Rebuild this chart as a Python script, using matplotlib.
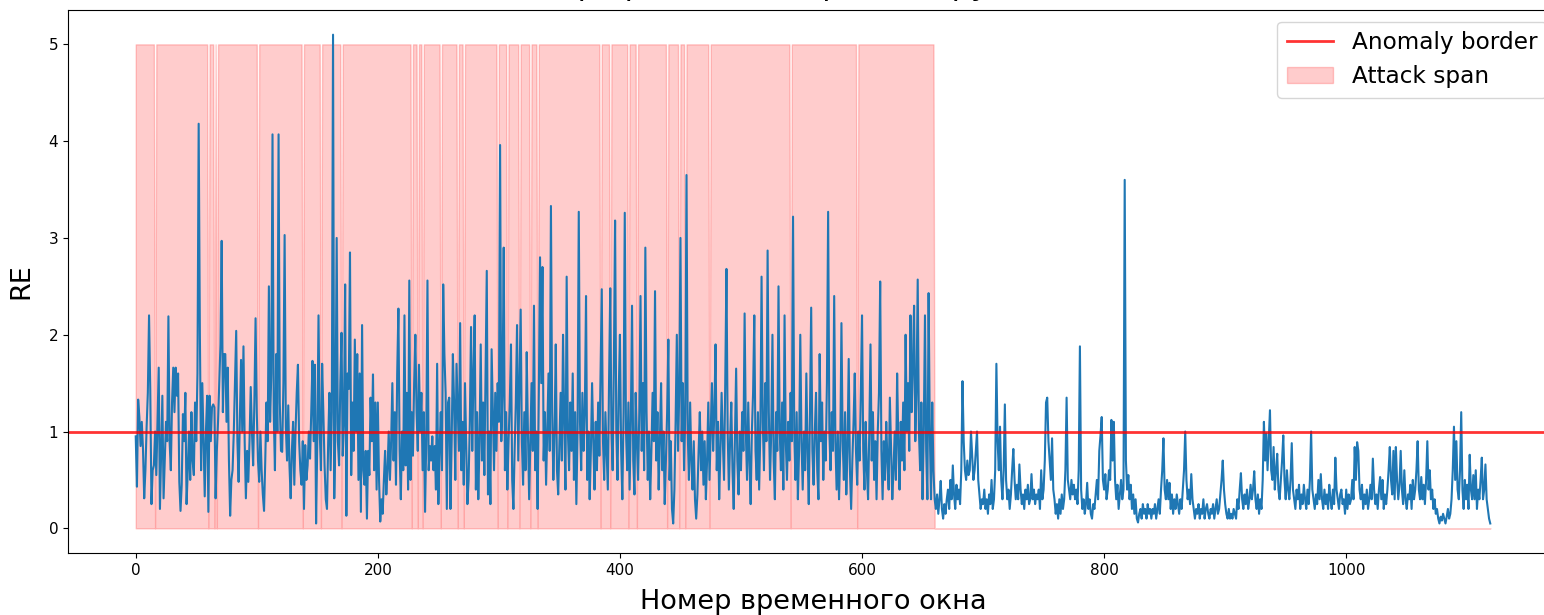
import numpy as np
import matplotlib
matplotlib.use("Agg")
import matplotlib.pyplot as plt

# Reconstruction error per time window
re_attack = [
    0.95, 0.43, 1.33, 1.15, 0.85, 1.1, 0.82, 0.31, 0.6, 1.05, 1.4, 2.2, 1.44, 0.25, 0.6, 0.65, 1.0, 0.55, 1.1, 1.66,
    0.2, 0.8, 1.37, 0.31, 0.7, 1.1, 0.9, 2.19, 0.89, 0.6, 1.3, 1.66, 1.2, 1.66, 1.37, 1.6, 0.48, 0.18, 0.45, 1.18,
    0.9, 1.4, 0.25, 0.6, 1.0, 0.5, 1.2, 0.7, 0.55, 1.3, 0.9, 1.6, 4.18, 2.0, 0.6, 1.5, 0.9, 0.33, 1.0, 1.37,
    0.17, 1.37, 0.9, 1.25, 1.28, 1.25, 0.31, 0.8, 1.1, 1.5, 1.9, 2.97, 1.2, 1.8, 1.8, 1.1, 1.66, 0.7, 0.13, 0.5,
    0.6, 0.99, 1.5, 2.04, 0.9, 0.48, 1.1, 1.74, 1.0, 1.88, 0.9, 0.31, 0.8, 0.48, 0.9, 1.46, 1.0, 0.65, 1.3, 2.17,
    1.2, 0.7, 0.48, 1.0, 0.6, 0.35, 0.18, 0.7, 1.3, 0.9, 2.5, 1.1, 1.6, 4.07, 1.2, 0.6, 1.8, 1.0, 4.07, 1.3,
    0.8, 0.79, 1.5, 3.03, 1.05, 0.7, 1.27, 0.65, 0.31, 0.8, 1.1, 0.45, 1.0, 1.4, 1.69, 0.9, 0.6, 0.45, 0.9, 0.2,
    0.86, 0.5, 0.65, 1.0, 0.72, 1.2, 1.73, 0.9, 1.69, 0.05, 0.9, 2.2, 1.0, 0.6, 1.7, 1.2, 0.65, 0.3, 0.2, 0.9,
    1.4, 0.6, 1.2, 5.1, 0.31, 1.1, 3.0, 0.9, 0.65, 1.5, 2.02, 0.75, 1.1, 2.52, 0.13, 1.6, 1.44, 2.85, 0.55, 1.3,
    0.8, 1.95, 1.0, 1.8, 0.5, 1.6, 0.17, 2.1, 0.6, 0.45, 0.8, 0.1, 0.8, 0.55, 1.35, 0.9, 1.59, 0.6, 1.3, 0.4,
    1.3, 0.5, 0.07, 0.3, 0.15, 0.5, 0.8, 0.35, 0.6, 1.0, 0.5, 0.9, 1.5, 0.7, 1.2, 0.45, 1.6, 2.27, 0.8, 0.3,
    1.0, 0.6, 2.2, 0.65, 1.4, 0.4, 2.56, 0.5, 1.2, 0.75, 1.5, 2.0, 1.2, 0.8, 1.69, 1.0, 1.4, 0.6, 1.2, 0.17,
    0.9, 2.56, 0.6, 0.85, 0.7, 0.95, 0.6, 0.85, 0.4, 1.7, 0.25, 0.8, 1.2, 0.6, 2.52, 1.8, 1.4, 0.2, 1.3, 1.35,
    0.2, 0.9, 1.8, 1.3, 0.5, 1.7, 1.25, 0.8, 2.12, 0.6, 1.1, 0.45, 1.5, 0.9, 0.25, 0.5, 1.1, 2.08, 0.8, 1.6,
    2.2, 0.4, 1.2, 0.3, 0.9, 1.9, 0.7, 1.3, 0.55, 1.6, 2.66, 0.35, 1.0, 0.25, 1.85, 1.2, 0.6, 1.4, 0.8, 1.5,
    1.1, 3.96, 0.9, 1.4, 2.9, 0.6, 1.2, 0.4, 0.9, 1.3, 1.9, 0.5, 0.2, 0.8, 1.3, 2.1, 0.7, 1.5, 2.26, 0.9,
    0.45, 1.2, 0.6, 1.82, 1.0, 0.3, 0.9, 1.5, 0.8, 2.3, 0.6, 1.0, 0.2, 1.4, 2.8, 1.5, 2.7, 0.7, 1.2, 0.45,
    1.0, 1.6, 0.8, 3.33, 1.2, 0.5, 1.0, 1.9, 0.6, 0.35, 0.9, 1.4, 0.7, 2.0, 1.1, 0.4, 2.6, 1.0, 0.6, 1.3,
    0.8, 1.6, 0.5, 1.2, 0.25, 1.0, 3.27, 1.1, 0.6, 1.4, 0.8, 1.2, 2.4, 0.5, 1.0, 0.3, 0.8, 1.5, 0.9, 0.4,
    1.1, 0.6, 1.3, 0.75, 1.6, 2.47, 0.9, 0.5, 1.2, 0.8, 0.4, 1.5, 2.48, 1.0, 0.6, 1.7, 3.18, 1.0, 0.5, 1.4,
    2.0, 0.8, 0.3, 1.2, 3.26, 1.0, 0.6, 1.3, 0.4, 1.1, 2.3, 0.7, 0.35, 1.4, 0.9, 0.5, 1.2, 2.4, 0.8, 1.5,
    0.6, 2.9, 1.2, 0.5, 1.0, 0.3, 0.8, 1.4, 0.9, 2.45, 0.7, 1.2, 0.4, 0.9, 1.5, 0.6, 1.0, 0.25, 0.7, 1.2,
    1.95, 0.5, 0.9, 0.2, 0.05, 0.4, 1.1, 2.0, 0.8, 1.4, 3.0, 0.9, 1.5, 0.6, 1.2, 3.65, 1.0, 0.5, 1.3, 0.7,
    0.4, 0.9, 0.3, 0.1, 0.35, 0.8, 1.2, 0.6, 1.0, 0.45, 0.9, 0.3, 0.7, 1.3, 0.5, 1.0, 1.5, 0.8, 1.2, 1.9,
    0.6, 1.1, 0.3, 0.8, 1.4, 0.9, 0.5, 1.5, 2.68, 1.0, 0.4, 0.9, 1.3, 0.6, 0.2, 0.9, 1.65, 0.7, 0.35, 1.0,
    0.6, 1.2, 0.8, 2.22, 1.0, 0.5, 1.3, 0.7, 0.25, 1.0, 1.4, 2.2, 0.8, 0.5, 1.2, 0.4, 1.0, 2.6, 1.1, 0.6,
    1.5, 0.9, 2.87, 1.2, 0.5, 1.0, 2.0, 0.7, 0.3, 1.2, 0.8, 2.5, 1.0, 0.6, 1.3, 0.4, 2.2, 0.9, 0.5, 1.1,
    0.7, 1.4, 0.9, 3.22, 1.0, 0.5, 1.2, 0.3, 0.8, 2.0, 0.9, 0.4, 1.0, 0.6, 1.6, 0.8, 0.25, 1.2, 2.28, 0.8,
    0.45, 1.0, 1.4, 0.6, 0.3, 1.8, 0.9, 1.3, 0.5, 1.0, 0.7, 1.5, 3.27, 1.0, 0.6, 1.2, 0.8, 2.4, 0.9, 0.4,
    1.0, 0.3, 0.8, 2.12, 0.9, 0.5, 1.2, 0.35, 0.8, 1.75, 0.6, 0.2, 0.7, 1.1, 1.6, 0.8, 0.45, 1.0, 0.7, 1.4,
    2.2, 0.8, 0.4, 1.1, 0.6, 0.3, 1.0, 1.9, 0.7, 1.2, 0.5, 0.9, 0.3, 1.0, 1.4, 2.55, 0.8, 0.3, 0.9, 0.5,
    1.1, 0.7, 0.4, 1.35, 0.8, 0.3, 0.6, 1.0, 0.5, 1.6, 0.9, 0.4, 1.1, 0.7, 1.3, 0.6, 2.0, 1.0, 1.5, 0.8,
    2.2, 1.2, 1.7, 2.3, 0.9, 1.4, 2.57, 1.0, 0.6, 1.3, 0.3, 1.0, 2.2, 0.8, 0.3, 2.43, 1.0, 0.3, 1.3, 0.6,
]
re_normal = [
    0.3, 0.2, 0.35, 0.15, 0.3, 0.49, 0.2, 0.1, 0.25, 0.15, 0.3, 0.4, 0.2, 0.5, 0.3, 0.65, 0.35, 0.2, 0.45, 0.3,
    0.4, 0.25, 0.6, 1.52, 0.9, 0.6, 0.5, 0.7, 0.55, 0.6, 1.0, 0.75, 0.5, 0.6, 0.8, 1.0, 0.5, 0.35, 0.2, 0.3,
    0.25, 0.4, 0.2, 0.3, 0.15, 0.35, 0.25, 0.5, 0.2, 0.3, 0.6, 1.7, 0.9, 0.6, 1.05, 0.5, 0.3, 0.6, 1.28, 0.5,
    0.3, 0.4, 0.2, 0.35, 0.6, 0.82, 0.5, 0.3, 0.45, 0.3, 0.66, 0.4, 0.25, 0.35, 0.2, 0.4, 0.3, 0.45, 0.25, 0.3,
    0.56, 0.3, 0.4, 0.25, 0.35, 0.3, 0.4, 0.2, 0.6, 0.3, 0.4, 0.7, 1.3, 1.35, 0.9, 0.7, 0.5, 0.93, 0.4, 0.3,
    0.15, 0.25, 0.1, 0.3, 0.15, 0.35, 0.2, 0.3, 0.6, 1.35, 0.5, 0.4, 0.3, 0.5, 0.35, 0.45, 0.3, 0.4, 0.25, 0.6,
    1.88, 0.4, 0.2, 0.3, 0.15, 0.25, 0.47, 0.2, 0.3, 0.15, 0.1, 0.25, 0.2, 0.35, 0.5, 0.3, 0.8, 0.96, 1.15, 0.5,
    0.4, 0.56, 0.3, 0.4, 0.6, 0.5, 1.12, 0.7, 1.1, 0.5, 0.3, 0.45, 0.2, 0.35, 0.5, 0.3, 0.4, 3.6, 0.7, 0.4,
    0.55, 0.3, 0.45, 0.2, 0.35, 0.15, 0.3, 0.1, 0.06, 0.15, 0.2, 0.1, 0.25, 0.15, 0.2, 0.1, 0.25, 0.15, 0.2, 0.1,
    0.2, 0.15, 0.25, 0.1, 0.2, 0.3, 0.15, 0.4, 0.6, 0.93, 0.4, 0.3, 0.5, 0.3, 0.47, 0.2, 0.35, 0.15, 0.3, 0.2,
    0.35, 0.25, 0.15, 0.3, 0.2, 0.4, 0.6, 1.0, 0.5, 0.3, 0.4, 0.25, 0.56, 0.3, 0.2, 0.1, 0.2, 0.15, 0.25, 0.1,
    0.2, 0.15, 0.3, 0.1, 0.2, 0.25, 0.15, 0.1, 0.2, 0.15, 0.25, 0.1, 0.2, 0.3, 0.15, 0.2, 0.35, 0.5, 0.7, 0.4,
    0.25, 0.15, 0.1, 0.2, 0.1, 0.15, 0.1, 0.2, 0.15, 0.1, 0.3, 0.2, 0.4, 0.57, 0.3, 0.2, 0.35, 0.25, 0.4, 0.2,
    0.3, 0.45, 0.3, 0.4, 0.59, 0.3, 0.2, 0.35, 0.15, 0.3, 0.2, 0.5, 1.1, 0.7, 0.98, 0.6, 0.9, 1.22, 0.6, 0.5,
    0.84, 0.4, 0.6, 0.77, 0.4, 0.3, 0.5, 0.7, 0.96, 0.5, 0.3, 0.6, 0.4, 0.3, 0.5, 0.88, 0.4, 0.3, 0.2, 0.4,
    0.3, 0.45, 0.2, 0.35, 0.25, 0.45, 0.3, 0.2, 0.4, 0.25, 0.5, 1.0, 0.4, 0.3, 0.2, 0.35, 0.25, 0.5, 0.3, 0.56,
    0.3, 0.2, 0.4, 0.25, 0.35, 0.2, 0.45, 0.3, 0.2, 0.4, 0.25, 0.73, 0.4, 0.3, 0.2, 0.35, 0.4, 0.25, 0.3, 0.15,
    0.4, 0.2, 0.35, 0.25, 0.3, 0.5, 0.3, 0.84, 0.5, 0.89, 0.8, 0.4, 0.3, 0.45, 0.2, 0.35, 0.25, 0.4, 0.2, 0.3,
    0.45, 0.3, 0.72, 0.4, 0.25, 0.35, 0.2, 0.4, 0.53, 0.3, 0.5, 0.2, 0.35, 0.25, 0.4, 0.6, 0.84, 0.5, 0.35, 0.8,
    0.3, 0.84, 0.5, 0.3, 0.45, 0.8, 0.4, 0.25, 0.6, 0.3, 0.2, 0.35, 0.3, 0.45, 0.2, 0.5, 0.3, 0.4, 0.6, 0.9,
    0.4, 0.3, 0.53, 0.3, 0.45, 0.25, 0.5, 0.9, 0.4, 0.6, 0.3, 0.4, 0.2, 0.3, 0.15, 0.2, 0.1, 0.05, 0.12, 0.08,
    0.15, 0.1, 0.05, 0.12, 0.2, 0.1, 0.15, 0.3, 0.6, 1.05, 0.5, 0.9, 0.4, 0.3, 0.6, 1.2, 0.4, 0.2, 0.5, 0.3,
    0.45, 0.2, 0.76, 0.4, 0.3, 0.55, 0.3, 0.6, 0.2, 0.4, 0.3, 0.5, 0.73, 0.3, 0.4, 0.66, 0.3, 0.2, 0.1, 0.05,
]

# Attack labelling: windows 0..attack_end-1 are attacks, except single-window gaps
attack_end = 660
attack_gaps = [16, 60, 65, 67, 101, 138, 153, 170, 228, 233, 237, 252, 266, 271, 299,
               307, 317, 326, 332, 384, 392, 407, 414, 439, 449, 454, 474, 541, 596]
attack_height = 5
anomaly_border = 1.0

xticks = [0, 200, 400, 600, 800, 1000]
yticks = [0, 1, 2, 3, 4, 5]

title = "График ошибки реконструкции"
xlabel = "Номер временного окна"
ylabel = "RE"

re = np.array(re_attack + re_normal)
n = len(re)
x = np.arange(n)
labels = np.zeros(n)
labels[:attack_end] = 1
labels[attack_gaps] = 0

fig = plt.figure(figsize=(15.44, 6.15), dpi=100)
W, H = 1544, 615
ax = fig.add_axes([68 / W, 1 - 553 / H, (1558 - 68) / W, (553 - 10) / H])

span = ax.fill_between(x, 0, labels * attack_height, color="red", alpha=0.2,
                       label="Attack span")
ax.plot(x, re, color="#1f77b4", linewidth=1.5)
border = ax.axhline(anomaly_border, color="red", alpha=0.8, linewidth=2,
                    label="Anomaly border")

ax.set_xlim(-0.05 * (n - 1), 1.05 * (n - 1))
ymax = max(re.max(), attack_height)
ax.set_ylim(-0.05 * ymax, 1.05 * ymax)
ax.set_xticks(xticks)
ax.set_yticks(yticks)
ax.tick_params(labelsize=11)

ax.set_title(title, fontsize=22, pad=11)
ax.set_xlabel(xlabel, fontsize=19.5, labelpad=8)
ax.set_ylabel(ylabel, fontsize=19.5, labelpad=10)
ax.legend(handles=[border, span], loc="upper right", fontsize=16.7)

fig.savefig("out.png", dpi=100)
